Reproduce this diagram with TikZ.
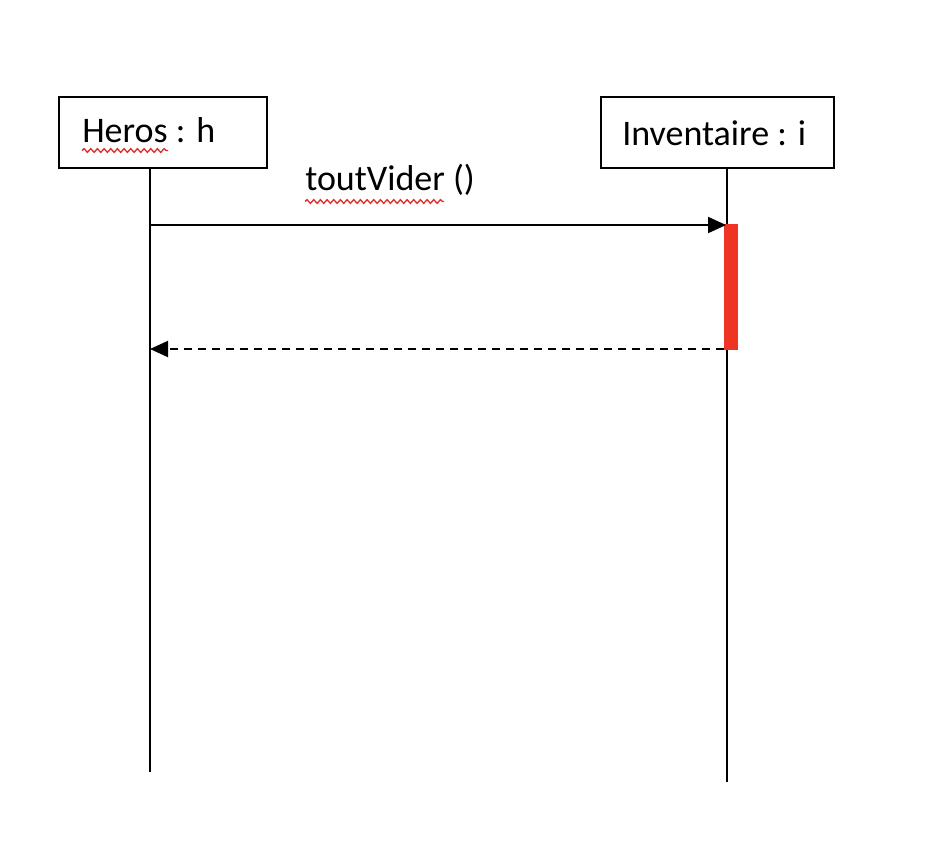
\documentclass[tikz,border=0pt]{standalone}
\usepackage{fontspec}
\setmainfont{Carlito}
\usetikzlibrary{arrows.meta,decorations.pathmorphing}
\definecolor{actred}{HTML}{EE3524}
\definecolor{spellred}{HTML}{E0302A}
\tikzset{
  objbox/.style={draw=black,line width=1.5pt,rectangle,inner sep=0pt},
  objtext/.style={inner sep=0pt,anchor=base west,font=\fontsize{27}{32}\selectfont},
  lifeline/.style={draw=black,line width=1.5pt},
  msg/.style={draw=black,line width=1.5pt,-{Triangle[length=13.5pt,width=12pt]}},
  ret/.style={msg,dash pattern=on 6pt off 4.5pt},
  activation/.style={fill=actred,draw=none},
  spell/.style={draw=spellred,line width=1pt,decorate,decoration={snake,amplitude=1.4pt,segment length=5pt}}
}
\begin{document}
\begin{tikzpicture}[x=0.75pt,y=-0.75pt]
\useasboundingbox (0,0) rectangle (944,840);
% boxes
\node[objbox,minimum width=208*0.75pt,minimum height=71*0.75pt] (hbox) at (163,132.5) {};
\node[objbox,minimum width=233*0.75pt,minimum height=71*0.75pt] (ibox) at (717.5,132.5) {};
\node[objtext] (htext) at (82,142.5) {Heros : h};
\node[objtext] (itext) at (622,145) {Inventaire : i};
% lifelines
\coordinate (htop) at (150,168);
\coordinate (hbot) at (150,772);
\coordinate (itop) at (727,168);
\coordinate (ibot) at (727,782);
\path[lifeline] (htop) -- (hbot);
\path[lifeline] (itop) -- (ibot);
% activation
\node[activation,minimum width=14*0.75pt,minimum height=126*0.75pt,inner sep=0pt] (act) at (731,287) {};
% messages
\coordinate (m1s) at (150,225);
\coordinate (m1e) at (726,225);
\path[msg] (m1s) -- (m1e);
\node[objtext] (lbl) at (305,190) {toutVider ()};
\coordinate (r1s) at (724,349);
\coordinate (r1e) at (150,349);
\path[ret] (r1s) -- (r1e);
% spell-check underlines
\coordinate (s1a) at (82,150.5);
\coordinate (s1b) at (168,150.5);
\coordinate (s2a) at (305,201.5);
\coordinate (s2b) at (444,201.5);
\path[spell] (s1a) -- (s1b);
\path[spell] (s2a) -- (s2b);
\end{tikzpicture}
\end{document}
